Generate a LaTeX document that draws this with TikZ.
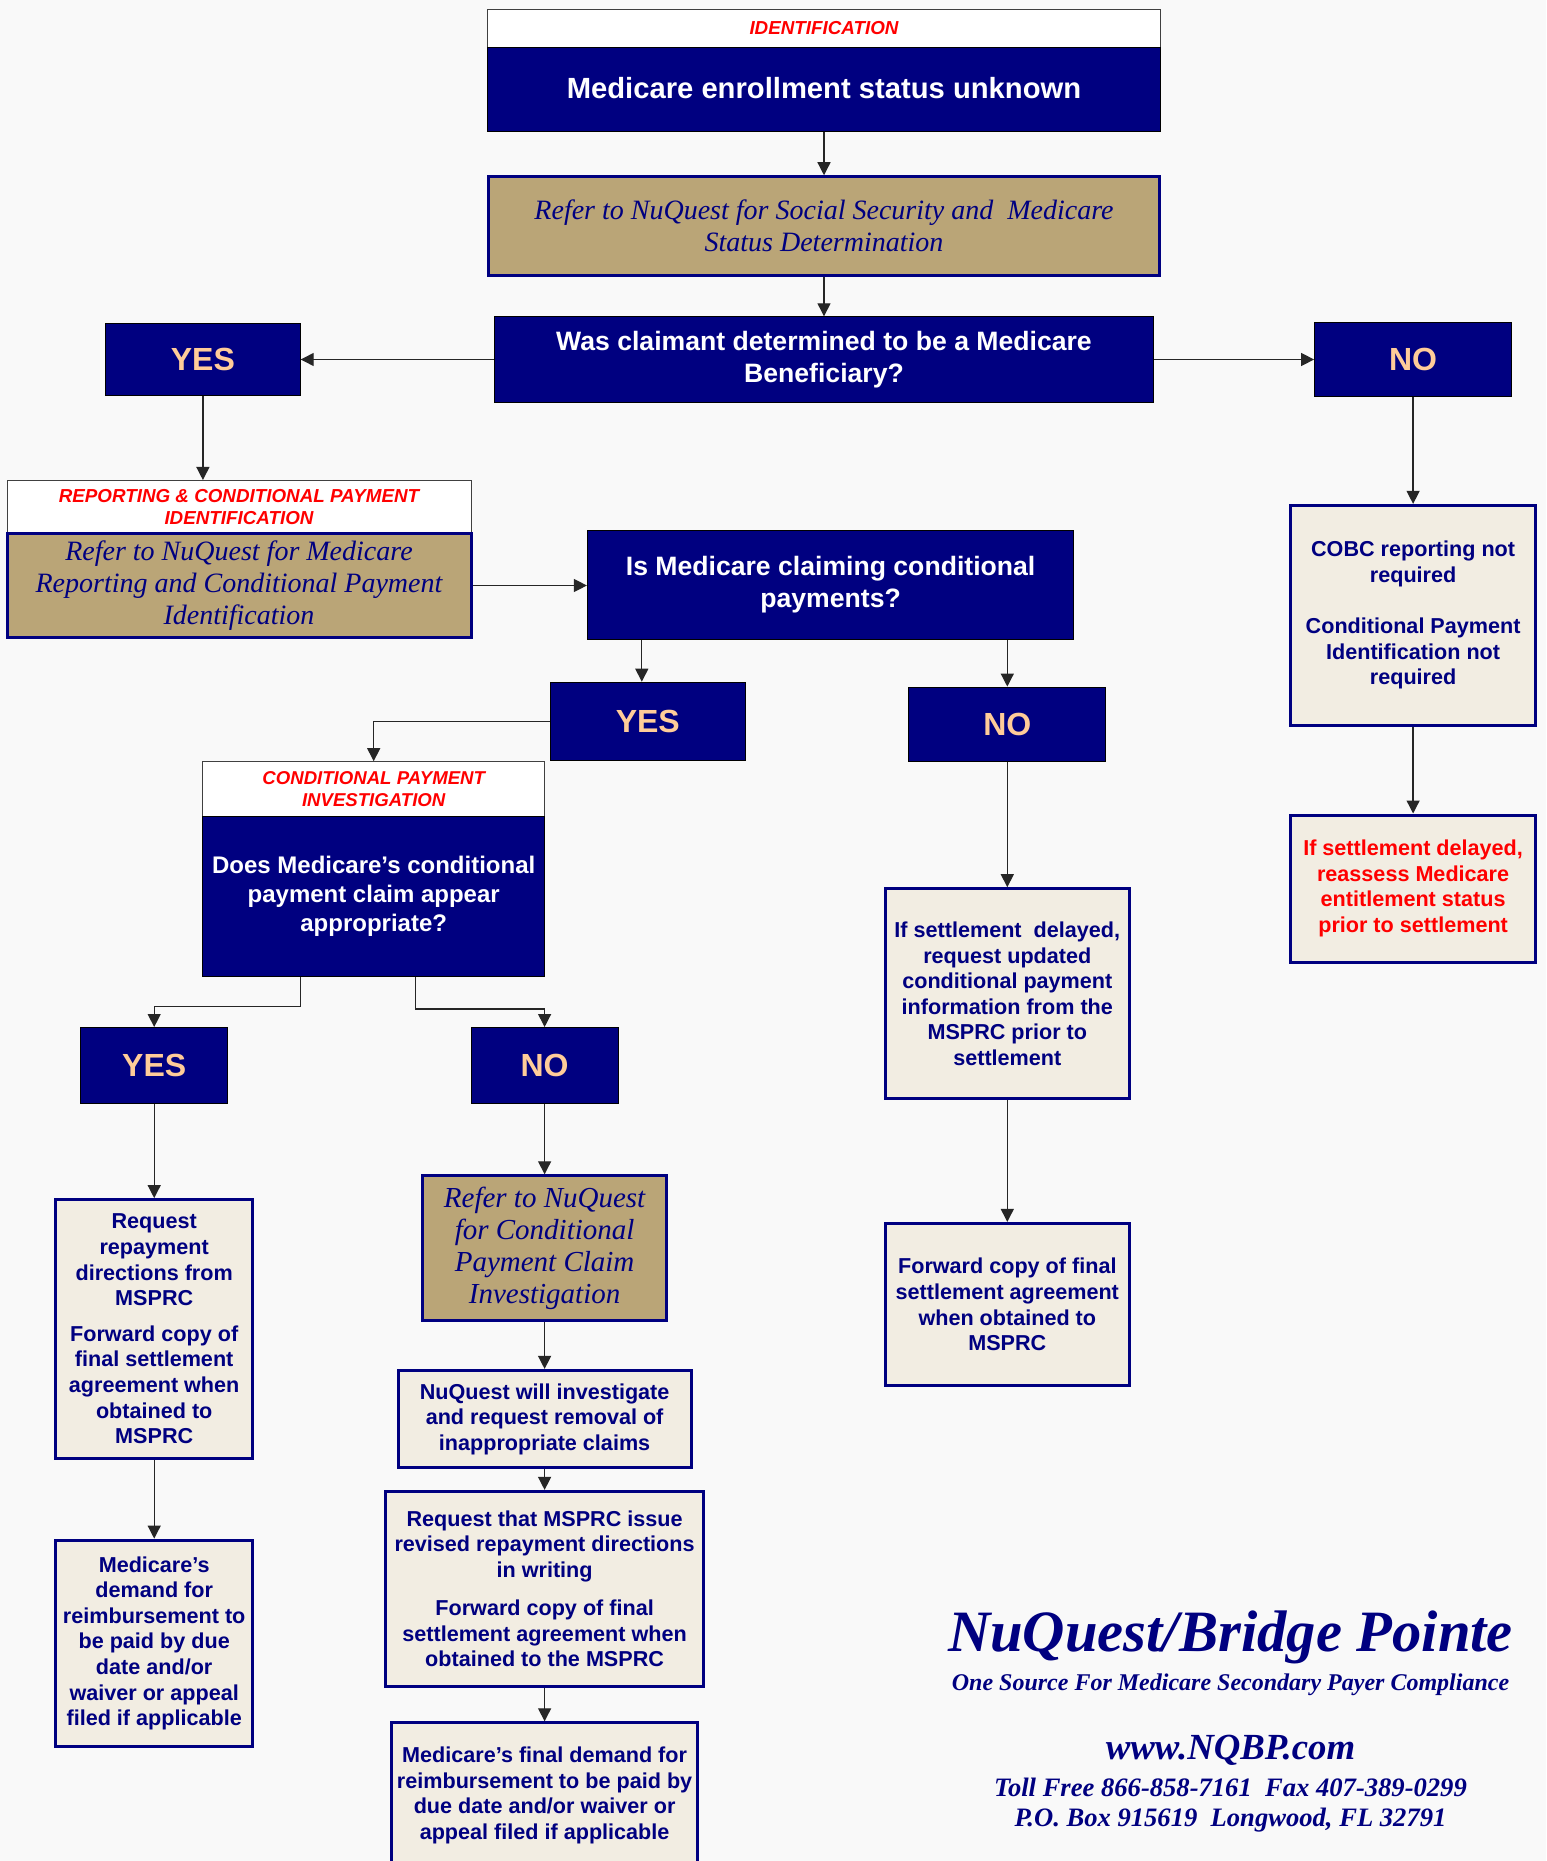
\documentclass[tikz,border=0pt]{standalone}
\usepackage{fontspec}
\setmainfont{Liberation Serif}
\setsansfont{Liberation Sans}
\usepackage{tikz}
\usetikzlibrary{arrows.meta}

\definecolor{navyblue}{RGB}{0,0,128}
\definecolor{tanfill}{RGB}{186,165,119}
\definecolor{beige}{RGB}{242,237,226}
\definecolor{peach}{RGB}{255,204,153}
\definecolor{pagegray}{RGB}{249,249,249}

\tikzset{
	bluebox/.style={draw=black, line width=0.5pt, fill=navyblue, text=white, align=center, inner sep=0pt,
		font=\sffamily\bfseries\fontsize{13.3}{16}\selectfont},
	headbox/.style={draw=black!75, line width=0.5pt, fill=white, text=red, align=center, inner sep=0pt,
		font=\sffamily\bfseries\itshape\fontsize{9.4}{11.2}\selectfont},
	tanbox/.style={draw=navyblue, line width=1.5pt, fill=tanfill, text=navyblue, align=center, inner sep=0pt,
		font=\rmfamily\itshape\fontsize{14}{16}\selectfont},
	notebox/.style={draw=navyblue, line width=1.5pt, fill=beige, text=navyblue, align=center, inner sep=0pt,
		font=\sffamily\bfseries\fontsize{10.8}{12.8}\selectfont},
	answer/.style={draw=black, line width=0.5pt, fill=navyblue, text=peach, inner sep=0pt,
		font=\sffamily\bfseries\fontsize{16}{19}\selectfont},
	logo/.style={text=navyblue, inner sep=0pt, font=\rmfamily\bfseries\itshape},
	link/.style={draw=black!85, line width=0.65pt, -{Triangle[length=6.5pt,width=6.5pt]}}
}

\begin{document}
\begin{tikzpicture}[x=0.5pt, y=-0.5pt]
	\useasboundingbox (0,0) rectangle (1546,1861);
	\clip (0,0) rectangle (1546,1861);
	\fill[pagegray] (0,0) rectangle (1546,1861);

	% top of the chart
	\node[headbox, minimum width=336.4pt, minimum height=19pt] (idhead) at (824,28.5) {IDENTIFICATION};
	\node[bluebox, minimum width=336.4pt, minimum height=42.1pt, font=\sffamily\bfseries\fontsize{14.6}{17}\selectfont] (idbox) at (824,89.6) {Medicare enrollment status unknown\rule[-1.5pt]{0pt}{1pt}};
	\node[tanbox, minimum width=335.2pt, minimum height=49.25pt] (ssa) at (824,226) {Refer to NuQuest for Social Security and\ \ Medicare\\Status Determination};
	\node[bluebox, minimum width=329.2pt, minimum height=42.7pt] (benef) at (824,359.5) {Was claimant determined to be a Medicare\\Beneficiary?};
	\node[answer, minimum width=97.3pt, minimum height=36.2pt] (yesA) at (202.9,359.5) {YES};
	\node[answer, minimum width=98.5pt, minimum height=36.8pt] (noA) at (1413.1,359.5) {NO};

	\draw[link] (idbox.south) -- (ssa.north);
	\draw[link] (ssa.south) -- (benef.north);
	\draw[link] (benef.west) -- (yesA.east);
	\draw[link] (benef.east) -- (noA.west);

	% not a beneficiary
	\node[notebox, minimum width=122.2pt, minimum height=109.8pt] (cobc) at (1413.1,615.2) {COBC reporting not\\required\\[12.8pt]Conditional Payment\\Identification not\\required};
	\node[notebox, text=red, minimum width=122.2pt, minimum height=73.6pt] (reassess) at (1413.1,888.6) {If settlement delayed,\\reassess Medicare\\entitlement status\\prior to settlement};
	\draw[link] (noA.south) -- (cobc.north);
	\draw[link] (cobc.south) -- (reassess.north);

	% beneficiary
	\node[headbox, minimum width=232pt, minimum height=26.7pt] (rcphead) at (239,507.2) {REPORTING \& CONDITIONAL PAYMENT\\IDENTIFICATION};
	\node[tanbox, minimum width=232pt, minimum height=51.6pt] (rcpbox) at (239,585.5) {Refer to NuQuest for Medicare\\Reporting and Conditional Payment\\Identification};
	\node[bluebox, minimum width=243.2pt, minimum height=54.5pt] (claim) at (830.6,585) {Is Medicare claiming conditional\\payments?};
	\node[answer, minimum width=97.3pt, minimum height=39.2pt] (yesB) at (647.8,721.4) {YES};
	\node[answer, minimum width=98.5pt, minimum height=37.3pt] (noB) at (1007.3,724.4) {NO};

	\draw[link] (yesA.south) -- (yesA.south |- rcphead.north);
	\draw[link] (rcpbox.east) -- (rcpbox.east -| claim.west);
	\draw[link] ([xshift=-3pt]yesB.north |- claim.south) -- ([xshift=-3pt]yesB.north);
	\draw[link] (noB.north |- claim.south) -- (noB.north);

	% no conditional payments
	\node[notebox, minimum width=122.2pt, minimum height=105pt] (delay) at (1007.3,993.7) {If settlement\ \ delayed,\\request updated\\conditional payment\\information from the\\MSPRC prior to\\settlement};
	\node[notebox, minimum width=122.2pt, minimum height=81.2pt] (fwdA) at (1007.3,1304.6) {Forward copy of final\\settlement agreement\\when obtained to\\MSPRC};
	\draw[link] (noB.south) -- (delay.north);
	\draw[link] (delay.south) -- (fwdA.north);

	% conditional payment investigation
	\node[headbox, minimum width=170.9pt, minimum height=27.3pt, font=\sffamily\bfseries\itshape\fontsize{9.3}{11.2}\selectfont] (cpihead) at (373.7,789) {CONDITIONAL PAYMENT\\INVESTIGATION};
	\node[bluebox, minimum width=170.9pt, minimum height=80.1pt, font=\sffamily\bfseries\fontsize{12}{14.5}\selectfont] (cpibox) at (373.7,896.4) {Does Medicare’s conditional\\payment claim appear\\appropriate?};
	\node[answer, minimum width=73.6pt, minimum height=38pt] (yesC) at (154.2,1065.5) {YES};
	\node[answer, minimum width=73.6pt, minimum height=38pt] (noC) at (544.6,1065.5) {NO};

	\draw[link] (yesB.west) -| (cpihead.north);
	\draw[link] ([xshift=-36.75pt]cpibox.south) -- ++(0,29.6) -| (yesC.north);
	\draw[link] ([xshift=20.8pt]cpibox.south) -- ++(0,32) -| (noC.north);

	% claim appears appropriate
	\node[notebox, minimum width=98.5pt, minimum height=129.3pt] (reqA) at (154.2,1328.9) {Request\\repayment\\directions from\\MSPRC\\[5pt]Forward copy of\\final settlement\\agreement when\\obtained to\\MSPRC};
	\node[notebox, minimum width=98.5pt, minimum height=103.2pt] (demA) at (154.2,1643.3) {Medicare’s\\demand for\\reimbursement to\\be paid by due\\date and/or\\waiver or appeal\\filed if applicable};
	\draw[link] (yesC.south) -- (reqA.north);
	\draw[link] (reqA.south) -- (demA.north);

	% claim does not appear appropriate
	\node[tanbox, minimum width=122.2pt, minimum height=72.4pt, font=\rmfamily\itshape\fontsize{14.5}{16}\selectfont] (nqinv) at (544.6,1248.2) {Refer to NuQuest\\for Conditional\\Payment Claim\\Investigation};
	\node[notebox, minimum width=146.5pt, minimum height=48.6pt] (willinv) at (544.6,1419) {NuQuest will investigate\\and request removal of\\inappropriate claims};
	\node[notebox, minimum width=159pt, minimum height=97.3pt] (revise) at (544.6,1588.7) {Request that MSPRC issue\\revised repayment directions\\in writing\\[6.2pt]Forward copy of final\\settlement agreement when\\obtained to the MSPRC};
	\node[notebox, minimum width=153.1pt, minimum height=72.6pt] (demB) at (544.6,1795.4) {Medicare’s final demand for\\reimbursement to be paid by\\due date and/or waiver or\\appeal filed if applicable};
	\draw[link] (noC.south) -- (nqinv.north);
	\draw[link] (nqinv.south) -- (willinv.north);
	\draw[link] (willinv.south) -- (revise.north);
	\draw[link] (revise.south) -- (demB.north);

	% company block
	\node[logo, font=\rmfamily\bfseries\itshape\fontsize{29.3}{32}\selectfont] (brand) at (1230.5,1637) {NuQuest/Bridge Pointe};
	\node[logo, font=\rmfamily\bfseries\itshape\fontsize{12}{14}\selectfont] (motto) at (1230.5,1685) {One Source For Medicare Secondary Payer Compliance};
	\node[logo, font=\rmfamily\bfseries\itshape\fontsize{18.4}{20}\selectfont] (web) at (1230.5,1750) {www.NQBP.com};
	\node[logo, font=\rmfamily\bfseries\itshape\fontsize{13.3}{15}\selectfont] (phone) at (1230.5,1787) {Toll Free 866-858-7161\ \ Fax 407-389-0299};
	\node[logo, font=\rmfamily\bfseries\itshape\fontsize{13.3}{15}\selectfont] (addr) at (1230.5,1820) {P.O. Box 915619\ \ Longwood, FL 32791};
\end{tikzpicture}
\end{document}
